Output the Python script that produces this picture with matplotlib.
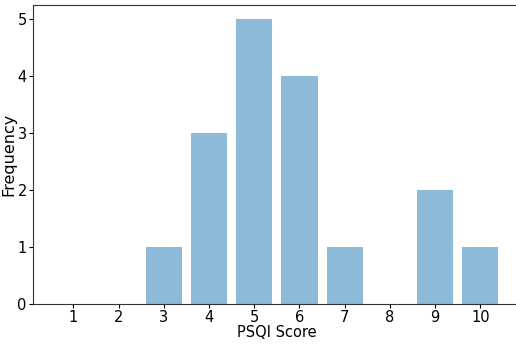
import matplotlib
matplotlib.use('Agg')
from matplotlib import pyplot as plt

scores = [1, 2, 3, 4, 5, 6, 7, 8, 9, 10]
freqs = [0, 0, 1, 3, 5, 4, 1, 0, 2, 1]

fig = plt.figure(figsize=(5.16, 3.45), dpi=100)
ax = fig.add_axes([0.064, 0.119, 0.945, 0.867])

ax.bar(scores, freqs, width=0.8, color='#1f77b4', alpha=0.5)
ax.set_xticks(scores)
ax.set_yticks(range(0, 6))
ax.set_xlim(0.11, 10.89)
ax.set_xlabel('PSQI Score', fontsize=10.5)
ax.set_ylabel('Frequency', fontsize=11.5)
ax.xaxis.set_label_coords(0.5, -0.072)
ax.yaxis.set_label_coords(-0.034, 0.5)
ax.tick_params(labelsize=10.5, length=3, pad=1.5)
for s in ax.spines.values():
    s.set_color('#333333')
ax.spines['right'].set_visible(False)

fig.savefig('out.png', dpi=100)
